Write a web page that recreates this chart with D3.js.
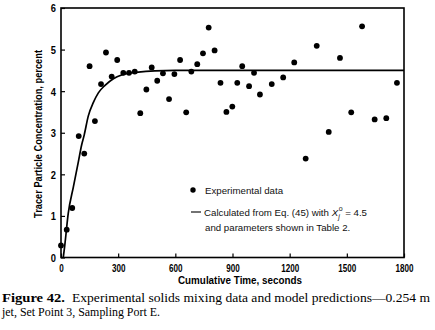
<!DOCTYPE html>
<html>
<head>
<meta charset="utf-8">
<script src="https://cdn.jsdelivr.net/npm/d3@7"></script>
<style>
  html, body { margin: 0; padding: 0; background: #fff; }
  svg { display: block; }
</style>
</head>
<body>
<svg id="chart" width="435" height="330"></svg>
<script>
// Experimental data points (cumulative time in s, tracer concentration in %)
const expTime = [0, 30, 59, 93, 122, 150, 178, 210, 236, 266, 295, 327, 357, 387, 416, 448,
  476, 505, 535, 567, 595, 625, 657, 684, 715, 745, 775, 806, 837, 868, 899, 925, 951, 987,
  1013, 1044, 1106, 1166, 1224, 1284, 1342, 1405, 1464, 1523, 1580, 1646, 1707, 1763];
const expConc = [0.29, 0.67, 1.19, 2.92, 2.5, 4.6, 3.28, 4.17, 4.93, 4.35, 4.75, 4.44, 4.44,
  4.47, 3.47, 4.04, 4.57, 4.25, 4.43, 3.81, 4.41, 4.75, 3.49, 4.47, 4.65, 4.91, 5.53, 4.98,
  4.2, 3.5, 3.63, 4.2, 4.6, 4.12, 4.44, 3.92, 4.17, 4.33, 4.69, 2.38, 5.09, 3.02, 4.8, 3.49,
  5.56, 3.32, 3.35, 4.2];

// Calculated model curve
const calcTime = [12, 20, 38, 65, 91, 108, 122, 143, 170, 196, 231, 275, 318, 406, 493, 600, 1800];
const calcConc = [0, 0.3, 1.06, 1.7, 2.3, 2.7, 2.95, 3.4, 3.73, 3.96, 4.14, 4.3, 4.39, 4.46, 4.49, 4.5, 4.5];

// Axis ticks
const xTicks = [0, 300, 600, 900, 1200, 1500, 1800];
const xTickLabels = ["0", "300", "600", "900", "1200", "1500", "1800"];
const yTicks = [0, 1, 2, 3, 4, 5, 6];
const yTickLabels = ["0", "1", "2", "3", "4", "5", "6"];

const xTitle = "Cumulative Time, seconds";
const yTitle = "Tracer Particle Concentration, percent";
const legendExp = "Experimental data";
const legendCalc1 = "Calculated from Eq. (45) with";
const legendCalc2 = "and parameters shown in Table 2.";
const captionBold = "Figure 42.";
const captionLine1 = "Experimental solids mixing data and model predictions\u20140.254 m";
const captionLine2 = "jet, Set Point 3, Sampling Port E.";

const svg = d3.select("#chart");
const L = 61, R = 404, T = 8, B = 257.5;

const x = d3.scaleLinear().domain([0, 1800]).range([L, R]);
const y = d3.scaleLinear().domain([0, 6]).range([B, T]);

svg.append("rect").attr("width", 435).attr("height", 330).attr("fill", "#fff");

const tickFont = "'Liberation Sans', Arial, sans-serif";

// X axis
const gx = svg.append("g").attr("transform", `translate(0,${B})`)
  .call(d3.axisBottom(x).tickValues(xTicks)
    .tickFormat((d, i) => xTickLabels[i]).tickSizeInner(-4).tickSizeOuter(0));
gx.select(".domain").remove();
gx.selectAll(".tick line").attr("stroke", "#000").attr("stroke-width", 1.2);
gx.selectAll(".tick text")
  .attr("y", 14.2).attr("dy", 0)
  .attr("font-family", tickFont).attr("font-weight", "bold").attr("font-size", 11)
  .attr("fill", "#000")
  .attr("textLength", (d, i) => xTickLabels[i].length * 4.5)
  .attr("lengthAdjust", "spacingAndGlyphs");

// Y axis
const gy = svg.append("g").attr("transform", `translate(${L},0)`)
  .call(d3.axisLeft(y).tickValues(yTicks)
    .tickFormat((d, i) => yTickLabels[i]).tickSizeInner(-4).tickSizeOuter(0));
gy.select(".domain").remove();
gy.selectAll(".tick line").attr("stroke", "#000").attr("stroke-width", 1.2);
gy.selectAll(".tick text")
  .attr("x", -5).attr("dy", "0.36em")
  .attr("font-family", tickFont).attr("font-weight", "bold").attr("font-size", 11)
  .attr("fill", "#000")
  .attr("textLength", 5.2).attr("lengthAdjust", "spacingAndGlyphs");

// Frame
svg.append("rect")
  .attr("x", x(0)).attr("y", y(6))
  .attr("width", x(1800) - x(0)).attr("height", y(0) - y(6))
  .attr("fill", "none").attr("stroke", "#000").attr("stroke-width", 1.6);

// Model curve
const calc = calcTime.map((t, i) => [t, calcConc[i]]);
svg.append("path")
  .datum(calc)
  .attr("fill", "none").attr("stroke", "#000").attr("stroke-width", 1.7)
  .attr("d", d3.line().x(d => x(d[0])).y(d => y(d[1])).curve(d3.curveMonotoneX));

// Data points
const pts = expTime.map((t, i) => [t, expConc[i]]);
svg.append("g").selectAll("circle").data(pts).join("circle")
  .attr("cx", d => x(d[0])).attr("cy", d => y(d[1])).attr("r", 2.9)
  .attr("fill", "#000");

// Legend
const legFont = "'Liberation Sans', Arial, sans-serif";
const legSize = 9.7;
svg.append("circle").attr("cx", 193).attr("cy", 190).attr("r", 2.7).attr("fill", "#000");
svg.append("text").attr("x", 205).attr("y", 193.5)
  .attr("font-family", legFont).attr("font-size", legSize).attr("fill", "#111")
  .text(legendExp);
svg.append("line").attr("x1", 191).attr("x2", 201).attr("y1", 212).attr("y2", 212)
  .attr("stroke", "#000").attr("stroke-width", 1.1);
const t1 = svg.append("text").attr("x", 204).attr("y", 215.5)
  .attr("font-family", legFont).attr("font-size", legSize).attr("fill", "#111")
  .text(legendCalc1);
const w1 = t1.node().getComputedTextLength();
const xX = 204 + w1 + 2.8;
const tX = svg.append("text").attr("x", xX).attr("y", 215.5)
  .attr("font-family", legFont).attr("font-size", legSize).attr("font-style", "italic")
  .attr("fill", "#111").text("X");
const wX = tX.node().getComputedTextLength();
svg.append("text").attr("x", xX + wX + 0.5).attr("y", 211)
  .attr("font-family", legFont).attr("font-size", 7).attr("fill", "#111").text("o");
svg.append("text").attr("x", xX + wX).attr("y", 218.5)
  .attr("font-family", legFont).attr("font-size", 7).attr("font-style", "italic")
  .attr("fill", "#111").text("j");
svg.append("text").attr("x", xX + wX + 7).attr("y", 215.5)
  .attr("font-family", legFont).attr("font-size", legSize).attr("fill", "#111")
  .text("= 4.5");
svg.append("text").attr("x", 205).attr("y", 231)
  .attr("font-family", legFont).attr("font-size", legSize).attr("fill", "#111")
  .text(legendCalc2);

// Axis titles
svg.append("text")
  .attr("transform", "translate(41.5,134) rotate(-90)")
  .attr("text-anchor", "middle")
  .attr("font-family", tickFont).attr("font-weight", "bold").attr("font-size", 10.5)
  .attr("fill", "#000")
  .attr("textLength", 168).attr("lengthAdjust", "spacingAndGlyphs")
  .text(yTitle);
svg.append("text")
  .attr("x", 240).attr("y", 283.5).attr("text-anchor", "middle")
  .attr("font-family", tickFont).attr("font-weight", "bold").attr("font-size", 10.5)
  .attr("fill", "#000")
  .attr("textLength", 124).attr("lengthAdjust", "spacingAndGlyphs")
  .text(xTitle);

// Caption
const capFont = "'Liberation Serif', 'Times New Roman', serif";
svg.append("text").attr("x", 2).attr("y", 301.5)
  .attr("font-family", capFont).attr("font-weight", "bold").attr("font-size", 12)
  .attr("fill", "#000")
  .attr("textLength", 63).attr("lengthAdjust", "spacingAndGlyphs")
  .text(captionBold);
svg.append("text").attr("x", 72).attr("y", 301.5)
  .attr("font-family", capFont).attr("font-size", 12).attr("fill", "#000")
  .attr("textLength", 358).attr("lengthAdjust", "spacingAndGlyphs")
  .text(captionLine1);
svg.append("text").attr("x", 2).attr("y", 315.5)
  .attr("font-family", capFont).attr("font-size", 12).attr("fill", "#000")
  .attr("textLength", 158).attr("lengthAdjust", "spacingAndGlyphs")
  .text(captionLine2);
</script>
</body>
</html>
